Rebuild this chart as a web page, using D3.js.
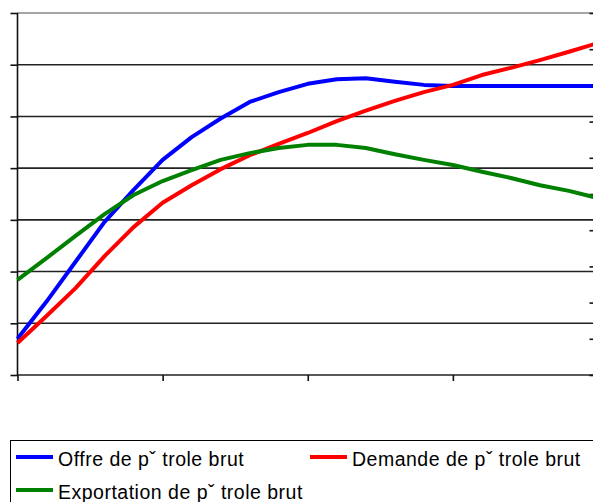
<!DOCTYPE html>
<html>
<head>
<meta charset="utf-8">
<script src="https://cdn.jsdelivr.net/npm/d3@7"></script>
<style>
body{margin:0;background:#fff;}
svg{display:block;font-family:"Liberation Sans",Arial,sans-serif;}
</style>
</head>
<body>
<script>
var years=[2000,2002,2004,2006,2008,2010,2012,2014,2016,2018,2020,2022,2024,2026,2028,2030,2032,2034,2036,2038,2040]
var offre=[7.0,14.2,21.9,29.6,35.8,41.6,46.0,49.6,52.8,54.7,56.3,57.2,57.4,56.7,56.1,55.9,55.9,55.9,55.9,55.9,55.9]
var demande=[6.2,11.4,16.8,23.0,28.6,33.3,36.7,39.8,42.5,44.7,46.8,49.1,51.1,53.0,54.7,56.1,58.0,59.4,60.9,62.5,64.2]
var exportation=[18.4,22.6,26.9,31.1,34.8,37.5,39.6,41.6,42.9,43.9,44.5,44.5,43.9,42.7,41.6,40.6,39.3,38.1,36.7,35.6,34.2]
var leftTicks=[0,10,20,30,40,50,60,70]
var rightTicks=[0,1,2,3,4,5,6,7,8,9,10]
var xTicks=[2000,2010,2020,2030,2040]
var series=[
  {name:"Offre de p\u02c7 trole brut",values:offre,color:"#0000ff"},
  {name:"Demande de p\u02c7 trole brut",values:demande,color:"#ff0000"},
  {name:"Exportation de p\u02c7 trole brut",values:exportation,color:"#008000"}
]
///////////////////////////////////////////////////////////////////
var screen={width:593,height:502}
var svg=d3.select("body").append("svg")
          .attr("width",screen.width)
          .attr("height",screen.height)
var x=d3.scaleLinear().domain([2000,2040]).range([17.5,598])
var y=d3.scaleLinear().domain([0,70]).range([375,13])
var yRight=d3.scaleLinear().domain([0,10]).range([375,13])

// gridlines
svg.append("g")
   .selectAll("line")
   .data(leftTicks)
   .enter()
   .append("line")
   .attr("x1",17).attr("x2",593)
   .attr("y1",function(d){return y(d)})
   .attr("y2",function(d){return y(d)})
   .attr("stroke",function(d){return d==70?"#888":"#222"})
   .attr("stroke-width",1.6)

// left axis
var left=svg.append("g")
   .attr("transform","translate(17.5,0)")
   .call(d3.axisLeft(y).tickValues(leftTicks).tickSize(7).tickFormat(""))
left.selectAll("path,line").attr("stroke","#111").attr("stroke-width",1.6)
left.select(".domain").attr("d","M0,13V375")

// bottom axis
var bottom=svg.append("g")
   .attr("transform","translate(0,375)")
   .call(d3.axisBottom(x).tickValues(xTicks).tickSize(6).tickFormat("").tickSizeOuter(0))
bottom.selectAll("path,line").attr("stroke","#111").attr("stroke-width",1.6)
bottom.select(".domain").remove()

// right axis ticks
var right=svg.append("g")
   .attr("transform","translate(593.5,0)")
   .call(d3.axisLeft(yRight).tickValues(rightTicks).tickSize(4).tickFormat(""))
right.selectAll("line").attr("stroke","#111").attr("stroke-width",1.6)
right.select(".domain").remove()

// lines
var line=d3.line()
   .x(function(d,i){return x(years[i])})
   .y(function(d){return y(d)})
svg.append("g")
   .selectAll("path")
   .data(series)
   .enter()
   .append("path")
   .attr("d",function(d){return line(d.values)})
   .attr("fill","none")
   .attr("stroke",function(d){return d.color})
   .attr("stroke-width",4)
   .attr("stroke-linejoin","round")

// legend
svg.append("rect")
   .attr("x",10.5).attr("y",440.5)
   .attr("width",600).attr("height",80)
   .attr("fill","none").attr("stroke","#000").attr("stroke-width",1)
var legendPos=[{x:16,y:457},{x:310,y:457},{x:16,y:490}]
var items=svg.append("g")
   .selectAll("g")
   .data(series)
   .enter()
   .append("g")
   .attr("transform",function(d,i){return "translate("+legendPos[i].x+","+legendPos[i].y+")"})
items.append("line")
   .attr("x1",0).attr("x2",37)
   .attr("stroke",function(d){return d.color})
   .attr("stroke-width",4)
items.append("text")
   .attr("x",42).attr("y",9)
   .attr("font-size",19.5)
   .attr("letter-spacing",0.5)
   .attr("fill","#000")
   .text(function(d){return d.name})
</script>
</body>
</html>
